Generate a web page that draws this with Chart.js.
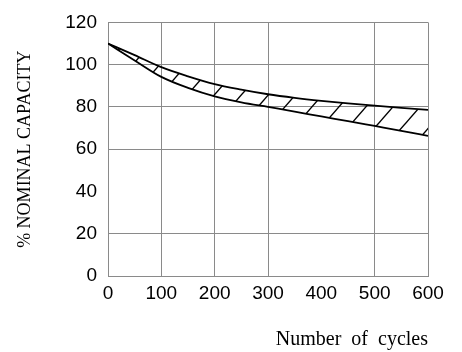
<!DOCTYPE html>
<html>
<head>
<meta charset="utf-8">
<script src="https://cdn.jsdelivr.net/npm/chart.js@4/dist/chart.umd.min.js"></script>
<style>
  html, body { margin: 0; background: #fff; }
</style>
</head>
<body>
<canvas id="chart" width="462" height="352"></canvas>
<script>
// values
const cycles = [0, 50, 100, 150, 200, 250, 300, 350, 400, 450, 500, 550, 600]
const upperCapacity = [110, 104.5, 98.8, 94.5, 90.8, 88.2, 86, 84.3, 82.9, 81.7, 80.6, 79.6, 78.6]
const lowerCapacity = [110, 102, 94.2, 89, 85, 82.2, 80, 77.8, 75.5, 73.3, 71, 68.7, 66.3]
// grid lines that the original leaves out
const skipGridX = [400]
const skipGridY = [40]

const canvas = document.getElementById('chart')
const ctx = canvas.getContext('2d')

const makeHatch = () => {
    const w = 27, h = 31
    const tile = document.createElement('canvas')
    tile.width = w
    tile.height = h
    const g = tile.getContext('2d')
    g.strokeStyle = '#000'
    g.lineWidth = 1.4
    for (const dx of [-w, 0, w]) {
        g.beginPath()
        g.moveTo(dx - w, 2 * h)
        g.lineTo(dx + 2 * w, -h)
        g.stroke()
    }
    return ctx.createPattern(tile, 'repeat')
}

const toPoints = (ys) => cycles.map((x, i) => ({x: x, y: ys[i]}))
const gridColor = (skip) => (c) => skip.includes(c.tick && c.tick.value) ? 'rgba(0,0,0,0)' : '#8a8a8a'

new Chart(canvas, {
    type: 'line',
    data: {
        datasets: [
            {
                data: toPoints(upperCapacity),
                borderColor: '#000',
                borderWidth: 1.8,
                backgroundColor: makeHatch(),
                fill: '+1',
                pointRadius: 0,
                cubicInterpolationMode: 'monotone'
            },
            {
                data: toPoints(lowerCapacity),
                borderColor: '#000',
                borderWidth: 1.8,
                fill: false,
                pointRadius: 0,
                cubicInterpolationMode: 'monotone'
            }
        ]
    },
    options: {
        responsive: false,
        animation: false,
        devicePixelRatio: 1,
        layout: {padding: {top: 19, right: 34, left: 0, bottom: 0}},
        plugins: {legend: {display: false}, tooltip: {enabled: false}},
        scales: {
            x: {
                type: 'linear',
                min: 0,
                max: 600,
                afterFit: (s) => { s.height = 76 },
                ticks: {stepSize: 100, color: '#000', padding: 6, font: {family: 'Liberation Sans', size: 19}},
                grid: {color: gridColor(skipGridX), drawTicks: false, lineWidth: 1},
                border: {color: '#8a8a8a'},
                title: {
                    display: true,
                    text: 'Number  of  cycles',
                    align: 'end',
                    color: '#000',
                    padding: {top: 0, bottom: 0},
                    font: {family: 'Liberation Serif', size: 20}
                }
            },
            y: {
                min: 0,
                max: 120,
                afterFit: (s) => { s.width = 108 },
                ticks: {stepSize: 20, color: '#000', padding: 11, font: {family: 'Liberation Sans', size: 19}},
                grid: {color: gridColor(skipGridY), drawTicks: false, lineWidth: 1},
                border: {color: '#8a8a8a'},
                title: {
                    display: true,
                    text: '% NOMINAL CAPACITY',
                    color: '#000',
                    padding: {top: 14, bottom: 0},
                    font: {family: 'Liberation Serif', size: 18}
                }
            }
        }
    }
})
</script>
</body>
</html>
